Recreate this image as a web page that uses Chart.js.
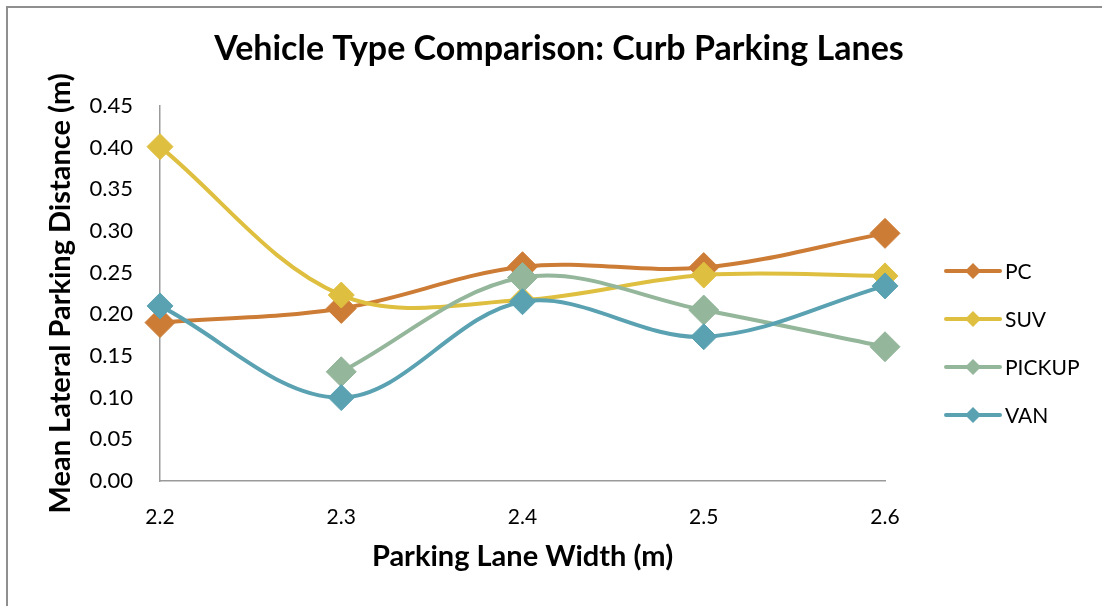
<!DOCTYPE html>
<html>
<head>
<meta charset="utf-8">
<script src="https://cdn.jsdelivr.net/npm/chart.js@4.4.1/dist/chart.umd.min.js"></script>
<style>
  html, body { margin: 0; padding: 0; background: #ffffff; overflow: hidden; }
  #frame {
    position: absolute; left: 6px; top: 6px; width: 1200px; height: 700px;
    border-top: 2px solid #8f8f8f; border-left: 2px solid #8f8f8f;
  }
  #wrap { position: absolute; left: 0; top: 0; width: 1102px; height: 606px; }
</style>
</head>
<body>
<div id="frame"></div>
<div id="wrap"><canvas id="chart" width="1102" height="606"></canvas></div>
<script>
// Parking lane widths (m)
const categories = ['2.2', '2.3', '2.4', '2.5', '2.6'];

// Mean lateral parking distance (m) by vehicle type
const pcValues     = [0.190, 0.207, 0.257, 0.256, 0.297];
const suvValues    = [0.401, 0.223, 0.217, 0.247, 0.246];
const pickupValues = [null,  0.131, 0.244, 0.205, 0.161];
const vanValues    = [0.210, 0.100, 0.215, 0.173, 0.234];

const seriesNames = ['PC', 'SUV', 'PICKUP', 'VAN'];
const seriesColors = ['#CD7C36', '#DFBF3F', '#94B69A', '#5AA2B2'];
const markerSizes = [15, 13, 15, 13];

const FONT = 'Lato, "Open Sans", sans-serif';

function makeSeries(i, data) {
  return {
    label: seriesNames[i],
    data: data,
    borderColor: seriesColors[i],
    backgroundColor: seriesColors[i],
    borderWidth: 4,
    pointStyle: 'rectRot',
    pointRadius: markerSizes[i],
    pointHoverRadius: markerSizes[i],
    pointBorderWidth: 1,
    pointBorderColor: seriesColors[i],
    pointBackgroundColor: seriesColors[i],
    tension: 0.35,
    spanGaps: false,
    order: 4 - i
  };
}

// Legend on the right: line segment with a diamond, then the label
const sideLegend = {
  id: 'sideLegend',
  afterDraw(chart) {
    const ctx = chart.ctx;
    const rows = [271, 319, 367, 415];
    const x0 = 946, x1 = 1000, xm = 973;
    ctx.save();
    chart.data.datasets.forEach((ds, i) => {
      const y = rows[i];
      ctx.strokeStyle = ds.borderColor;
      ctx.lineWidth = 4;
      ctx.lineCap = 'round';
      ctx.beginPath();
      ctx.moveTo(x0, y);
      ctx.lineTo(x1, y);
      ctx.stroke();
      ctx.fillStyle = ds.backgroundColor;
      ctx.beginPath();
      ctx.moveTo(xm, y - 8);
      ctx.lineTo(xm + 8, y);
      ctx.lineTo(xm, y + 8);
      ctx.lineTo(xm - 8, y);
      ctx.closePath();
      ctx.fill();
      ctx.fillStyle = '#000000';
      ctx.font = '21px ' + FONT;
      ctx.textAlign = 'left';
      ctx.textBaseline = 'middle';
      ctx.fillText(ds.label, 1005, y + 1);
    });
    ctx.restore();
  }
};

new Chart(document.getElementById('chart'), {
  type: 'line',
  data: {
    labels: categories,
    datasets: [
      makeSeries(0, pcValues),
      makeSeries(1, suvValues),
      makeSeries(2, pickupValues),
      makeSeries(3, vanValues)
    ]
  },
  options: {
    responsive: false,
    animation: false,
    devicePixelRatio: 1,
    layout: { padding: { left: 16, right: 0, top: 0, bottom: 0 } },
    plugins: {
      legend: { display: false },
      tooltip: { enabled: false },
      title: {
        display: true,
        text: 'Vehicle Type Comparison: Curb Parking Lanes',
        color: '#000000',
        font: { family: FONT, size: 34, weight: 'bold' },
        padding: { top: 29, bottom: 36 }
      }
    },
    scales: {
      x: {
        type: 'category',
        offset: false,
        grid: { display: false, drawTicks: false },
        border: { display: true, color: '#9a9a9a', width: 1.5 },
        ticks: { color: '#000000', font: { family: FONT, size: 21 }, padding: 24, maxRotation: 0 },
        title: {
          display: true,
          text: 'Parking Lane Width (m)',
          color: '#000000',
          font: { family: FONT, size: 29, weight: 'bold' },
          padding: { top: 0, bottom: 32 }
        },
        afterFit(scale) { scale.height = 125; }
      },
      y: {
        min: 0,
        max: 0.45,
        grid: { display: false, drawTicks: false },
        border: { display: true, color: '#9a9a9a', width: 1.5 },
        ticks: {
          stepSize: 0.05,
          color: '#000000',
          font: { family: FONT, size: 22 },
          padding: 27,
          callback: (v) => Number(v).toFixed(2)
        },
        title: {
          display: true,
          text: 'Mean Lateral Parking Distance (m)',
          color: '#000000',
          font: { family: FONT, size: 29, weight: 'bold' },
          padding: { top: 27, bottom: 0 }
        },
        afterFit(scale) { scale.width = 144; }
      },
      // empty right-hand axis that reserves the legend column
      legendSpace: {
        type: 'linear',
        position: 'right',
        min: 0,
        max: 1,
        grid: { display: false, drawTicks: false },
        border: { display: false },
        ticks: { display: false },
        afterFit(scale) { scale.width = 217; }
      }
    }
  },
  plugins: [sideLegend]
});
</script>
</body>
</html>
